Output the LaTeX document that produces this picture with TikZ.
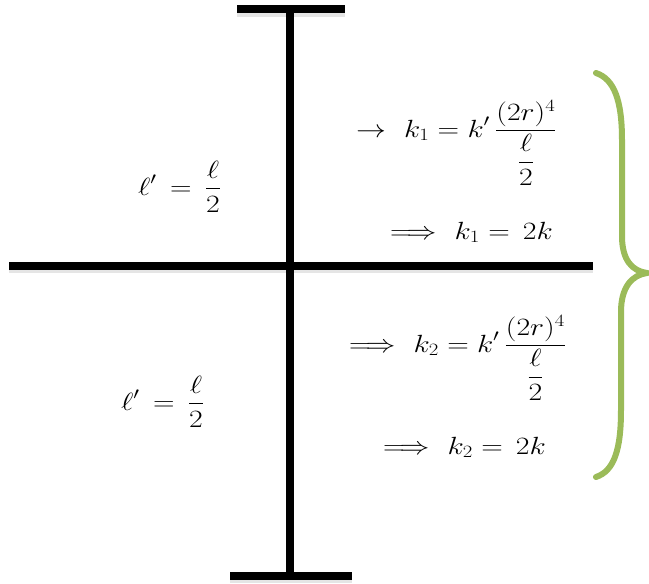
\documentclass[tikz,border=0pt]{standalone}
\usepackage{amsmath}
\definecolor{bracegreen}{HTML}{9BBB59}
\newcommand\widemath[1]{\scalebox{1.2}[1]{$\displaystyle #1$}}
\begin{document}
\begin{tikzpicture}[x=1pt,y=-1pt,
  bar/.style={line width=8pt,black},
  barshadow/.style={line width=8pt,black!10},
  eq/.style={inner sep=0pt,anchor=base west,font=\fontsize{27}{32}\selectfont},
  curly/.style={line width=6pt,bracegreen,line cap=round}]
\useasboundingbox (0,0) rectangle (649,584);
% shadows
\draw[barshadow] (237,12.5) -- (345,12.5);
\draw[barshadow] (230,579) -- (352,579);
\draw[barshadow] (9,269) -- (593,269);
% bars
\draw[bar] (290,9) -- (290,575.5);
\draw[bar] (237,9) -- (345,9);
\draw[bar] (230,575.5) -- (352,575.5);
\draw[bar] (9,265.5) -- (593,265.5);
% brace
\draw[curly] (596,73) .. controls (614,79) and (622,100) .. (622,140) -- (622,236)
  .. controls (622,260) and (632,271) .. (647,273)
  .. controls (632,275) and (621,287) .. (621,312) -- (621,410)
  .. controls (621,450) and (614,471) .. (596,477);
% labels
\node[eq] (lt) at (138,195) {\widemath{\ell' \,=\, \frac{\ell}{2}}};
\node[eq] (lb) at (121,410) {\widemath{\ell' \,=\, \frac{\ell}{2}}};
\node[eq] (k1) at (356,137) {\widemath{\to\ k_1 = k'\,\frac{(2r)^4}{\dfrac{\ell}{2}}}};
\node[eq] (k1r) at (390,239) {\widemath{\Longrightarrow\ k_1 =\,2k}};
\node[eq] (k2) at (349,352) {\widemath{\Longrightarrow\ k_2 = k'\,\frac{(2r)^4}{\dfrac{\ell}{2}}}};
\node[eq] (k2r) at (383,454) {\widemath{\Longrightarrow\ k_2 =\,2k}};
\end{tikzpicture}
\end{document}
